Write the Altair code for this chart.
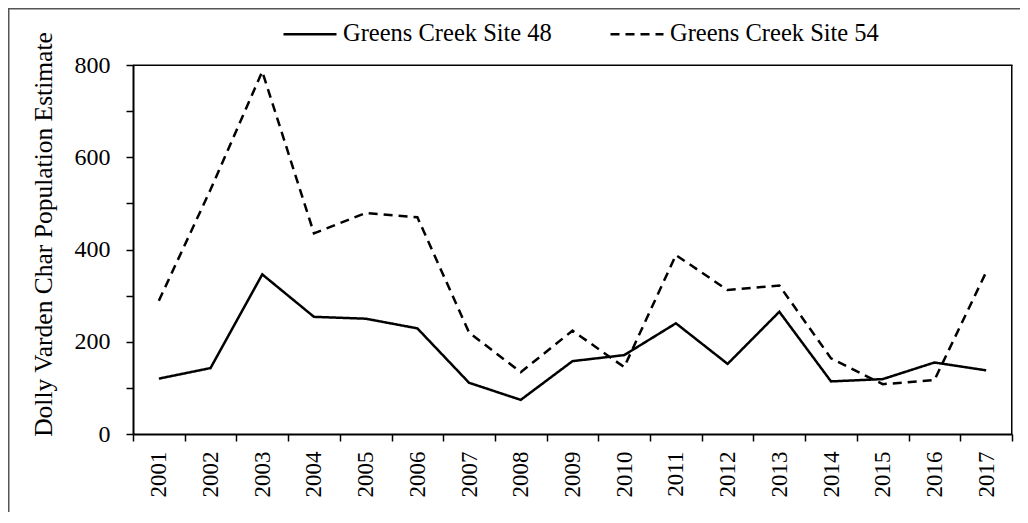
import altair as alt
import pandas as pd

years = [str(y) for y in range(2001, 2018)]
series_names = ["Greens Creek Site 48", "Greens Creek Site 54"]
site48 = [120, 143, 346, 254, 250, 229, 111, 74, 158, 171, 240, 152, 265, 114, 119, 155, 138]
site54 = [289, 530, 786, 435, 479, 470, 220, 134, 224, 145, 388, 312, 322, 164, 108, 117, 351]
y_ticks = [0, 100, 200, 300, 400, 500, 600, 700, 800]

rows = []
for name, vals in zip(series_names, [site48, site54]):
    for yr, v in zip(years, vals):
        rows.append({"Year": yr, "Value": v, "Series": name})
df = pd.DataFrame(rows)

FONT = "Liberation Serif"
W, H = 879, 369

lines = alt.Chart(df).mark_line(color="black", strokeWidth=2.5).encode(
    x=alt.X(
        "Year:O",
        sort=years,
        bandPosition=0.5,
        scale=alt.Scale(type="band", paddingInner=0, paddingOuter=0),
        axis=alt.Axis(
            title=None,
            labelAngle=270,
            labelAlign="right",
            labelBaseline="middle",
            labelFont=FONT,
            labelFontSize=23,
            labelColor="black",
            labelPadding=10,
            tickBand="extent",
            tickSize=7,
            tickColor="black",
            tickWidth=1.5,
            domainColor="black",
            domainWidth=2,
            grid=False,
        ),
    ),
    y=alt.Y(
        "Value:Q",
        scale=alt.Scale(domain=[0, 800], nice=False),
        axis=alt.Axis(
            title="Dolly Varden Char Population Estimate",
            titleFont=FONT,
            titleFontSize=25.5,
            titleFontWeight="normal",
            titleColor="black",
            titlePadding=18,
            titleY=169,
            values=y_ticks,
            labelExpr="datum.value % 200 == 0 ? datum.label : ''",
            labelOverlap=False,
            labelFont=FONT,
            labelFontSize=24,
            labelColor="black",
            labelPadding=16,
            tickSize=7,
            tickColor="black",
            tickWidth=1.5,
            domainColor="black",
            domainWidth=2,
            grid=False,
        ),
    ),
    strokeDash=alt.StrokeDash(
        "Series:N",
        scale=alt.Scale(domain=series_names, range=[[1, 0], [9, 6]]),
        legend=alt.Legend(
            title=None,
            orient="none",
            legendX=149,
            legendY=-59,
            direction="horizontal",
            symbolType="stroke",
            symbolSize=2809,
            symbolStrokeColor="black",
            symbolStrokeWidth=2.5,
            labelFont=FONT,
            labelFontSize=24.5,
            labelColor="black",
            labelOffset=5,
            labelLimit=500,
            columnPadding=53,
        ),
    ),
)

one = pd.DataFrame({"a": [0]})

frame = alt.Chart(one).mark_rect(
    fillOpacity=0, stroke="#555555", strokeWidth=1.5
).encode(
    x=alt.value(-124.25),
    x2=alt.value(2000),
    y=alt.value(-56.25),
    y2=alt.value(2000),
)

top_edge = alt.Chart(one).mark_rule(color="black", strokeWidth=1.5).encode(
    x=alt.value(0.01),
    x2=alt.value(W + 0.5),
    y=alt.value(0.25),
)
right_edge = alt.Chart(one).mark_rule(color="black", strokeWidth=1.5).encode(
    x=alt.value(W - 0.25),
    y=alt.value(0.01),
    y2=alt.value(H),
)

chart = alt.layer(frame, top_edge, right_edge, lines).properties(
    width=W,
    height=H,
    background="white",
    autosize=alt.AutoSizeParams(type="none"),
    padding={"left": 125, "top": 57, "right": 8, "bottom": 78},
).configure_view(strokeWidth=0)

chart.save("out.html", embed_options={"renderer": "svg", "actions": False})
